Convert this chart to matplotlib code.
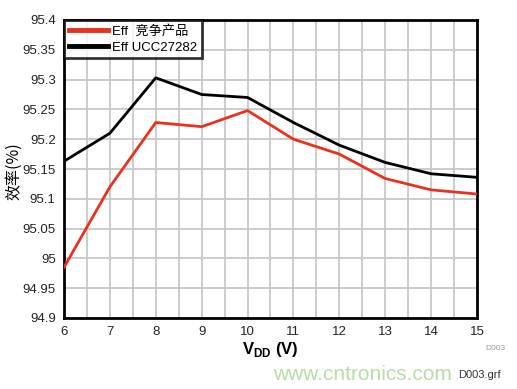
import matplotlib
matplotlib.use("Agg")
import matplotlib.pyplot as plt
from matplotlib.ticker import MultipleLocator

plt.rcParams['font.family'] = ['Liberation Sans', 'Noto Sans CJK SC', 'DejaVu Sans']

vdd = [6, 7, 8, 9, 10, 11, 12, 13, 14, 15]
eff_comp = [94.985, 95.12, 95.228, 95.221, 95.248, 95.200, 95.175, 95.134, 95.115, 95.108]
eff_ucc = [95.163, 95.210, 95.303, 95.275, 95.270, 95.228, 95.190, 95.161, 95.142, 95.136]
label_comp = "Eff  竞争产品"
label_ucc = "Eff UCC27282"

fig = plt.figure(figsize=(5.17, 3.89), dpi=100)
ax = fig.add_axes([64/517, 1-318/389, (477-64)/517, (318-20)/389])

ax.plot(vdd, eff_comp, color='#e8321e', lw=2.0, label=label_comp, zorder=3)
ax.plot(vdd, eff_ucc, color='black', lw=2.0, label=label_ucc, zorder=3)

ax.set_xlim(6, 15)
ax.set_ylim(94.9, 95.4)
ax.xaxis.set_major_locator(MultipleLocator(1))
ax.xaxis.set_minor_locator(MultipleLocator(0.5))
ax.grid(True, which='both', axis='x', color='#c8c8c8', lw=1.3, zorder=0)
ax.grid(True, which='major', axis='y', color='#c8c8c8', lw=1.3, zorder=0)
ax.set_axisbelow(True)
ax.tick_params(which='both', length=0, labelsize=9.5, labelcolor='#222222', pad=6)
ax.set_yticks([94.9 + 0.05*i for i in range(11)])
ax.set_yticklabels(['94.9', '94.95', '95', '95.05', '95.1', '95.15', '95.2', '95.25', '95.3', '95.35', '95.4'])
for s in ax.spines.values():
    s.set_linewidth(2.0)
    s.set_color('black')

ax.set_xlabel(r'V$_{\mathregular{DD}}$ (V)', fontsize=12, labelpad=1, fontweight='bold')
fig.text(14/517, 1-171/389, '效率(%)', fontsize=11.5, rotation=90, ha='center', va='center',
         family=['Noto Sans CJK SC', 'DejaVu Sans'])

leg = ax.legend(loc='upper left', bbox_to_anchor=(0, 1), borderaxespad=0.0,
                frameon=True, fancybox=False, handlelength=3.0,
                handletextpad=0.3, borderpad=0.35, labelspacing=0.3,
                prop={'family': ['Liberation Sans', 'Noto Sans CJK SC'], 'size': 9.5})
leg.get_frame().set_edgecolor('black')
leg.get_frame().set_linewidth(2.0)
for l in leg.get_lines():
    l.set_linewidth(3.5)

fig.text(485/517, 1-349/389, 'D003', fontsize=6, color='#999999', ha='left', va='center')
fig.text(273/517, 1-375/389, 'www.cntronics.com', fontsize=15, color='#b9dca8', ha='left', va='center')
fig.text(458/517, 1-375/389, 'D003.grf', fontsize=8, color='#333333', ha='left', va='center')

fig.savefig('out.png', dpi=100)
